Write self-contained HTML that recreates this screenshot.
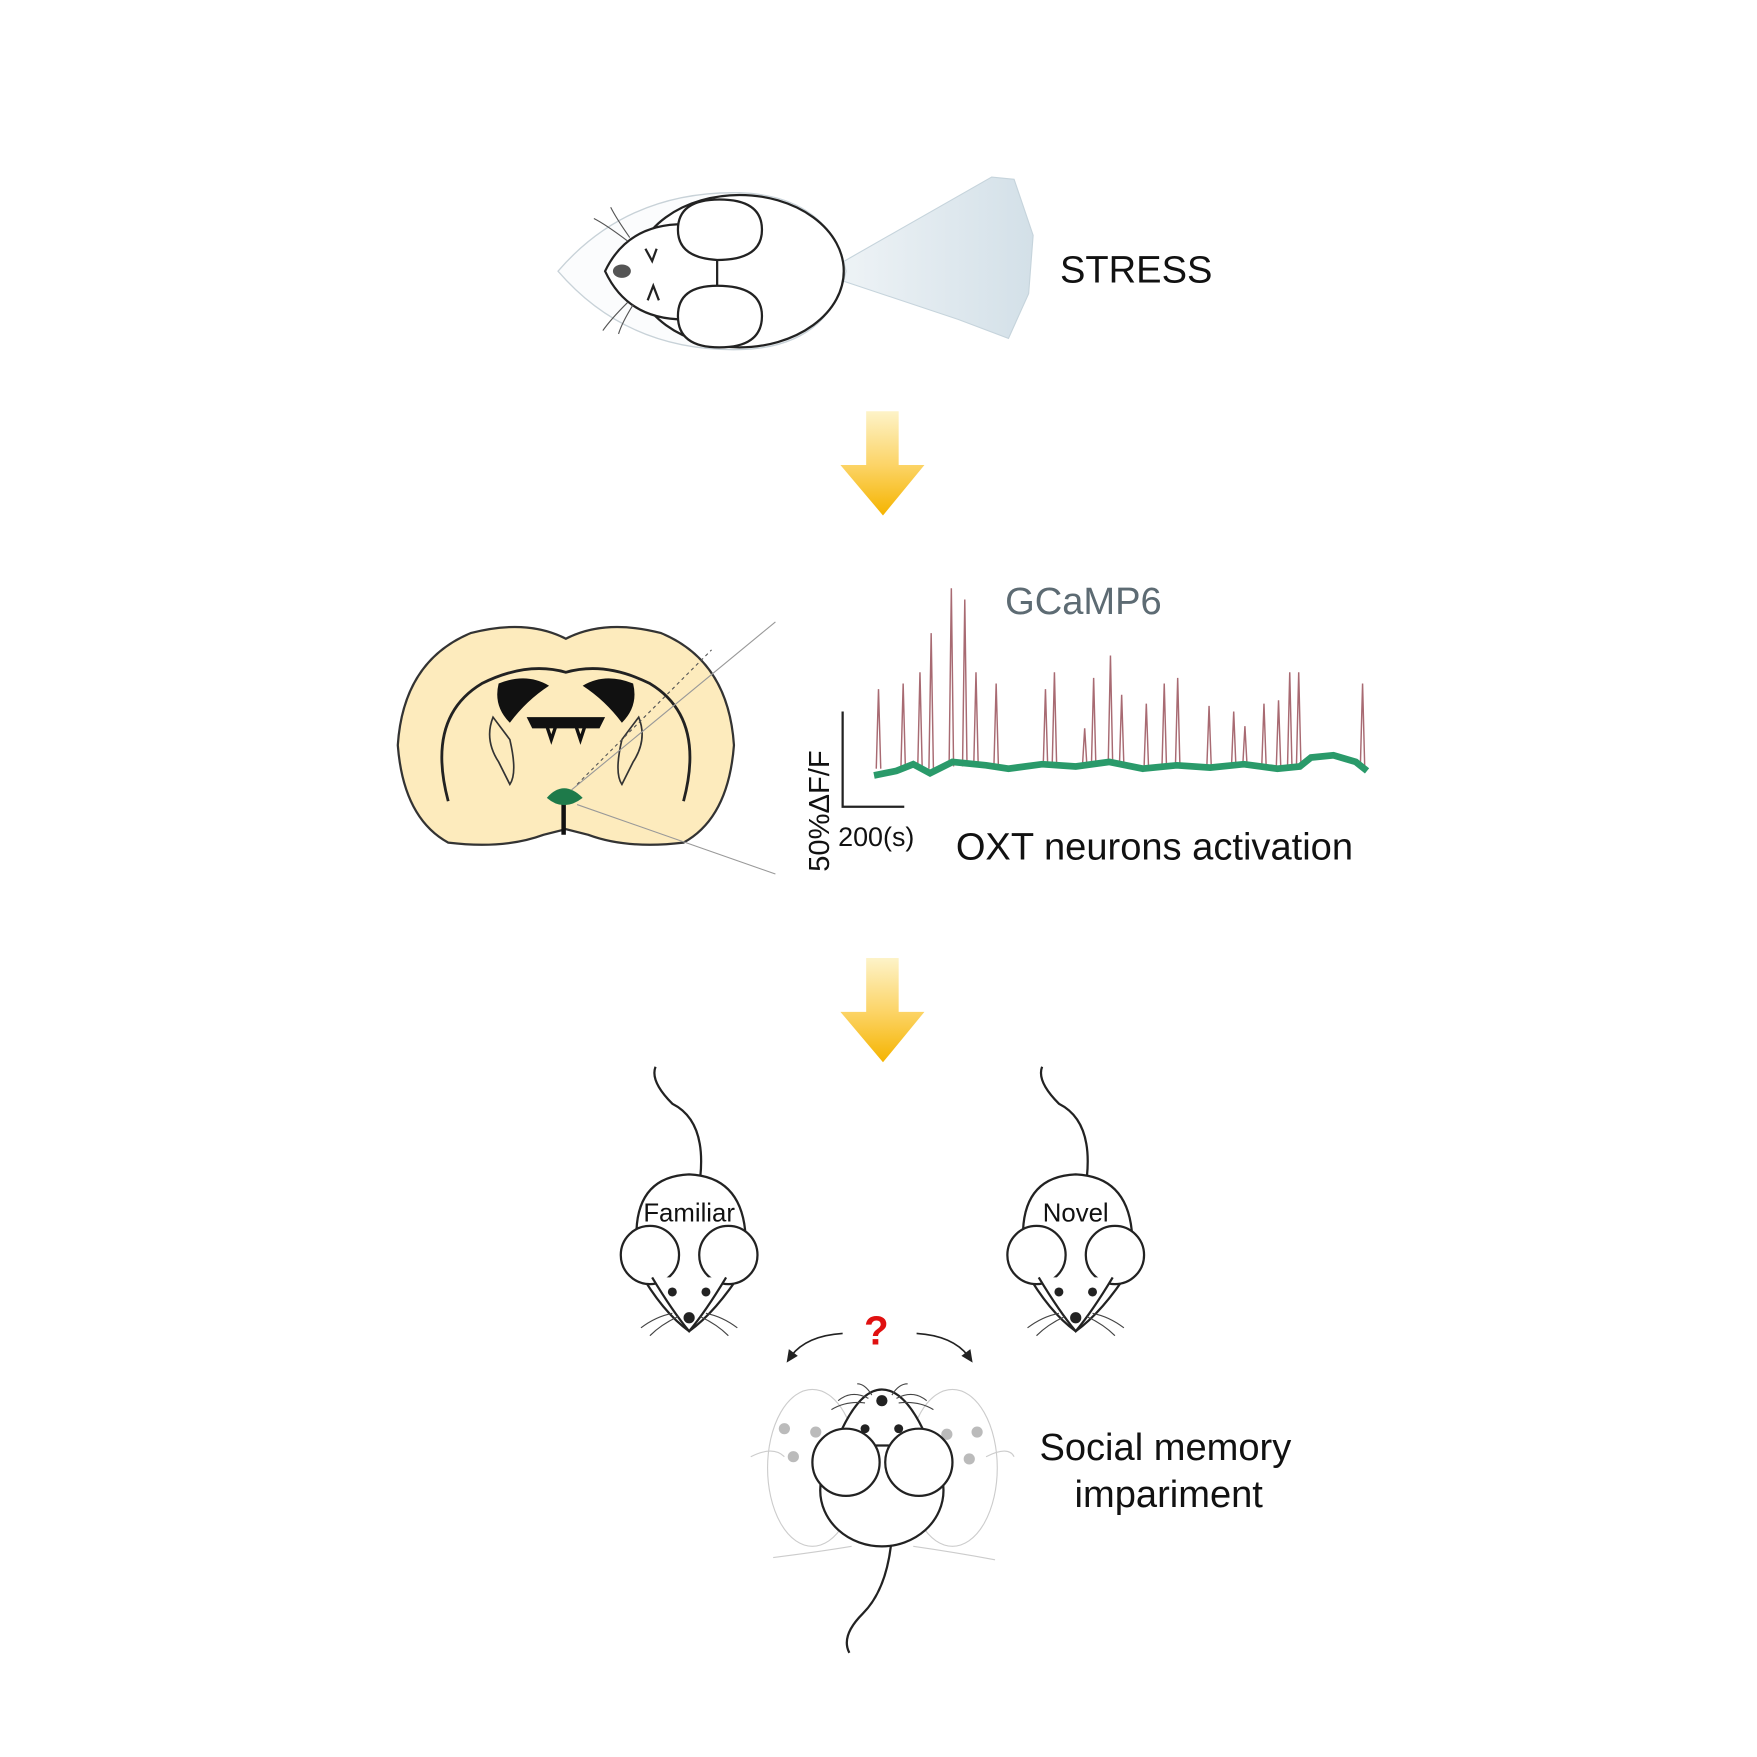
<!DOCTYPE html>
<html><head><meta charset="utf-8"><style>
html,body{margin:0;padding:0;background:#fff;}
svg{display:block;}
text{font-family:"Liberation Sans",sans-serif;}
</style></head><body>
<svg width="1757" height="1757" viewBox="0 0 1568 1568" xmlns="http://www.w3.org/2000/svg">
<defs>
<linearGradient id="yg" x1="0" y1="0" x2="0" y2="1">
<stop offset="0" stop-color="#fdf3c8"/><stop offset="0.5" stop-color="#fcd56a"/><stop offset="1" stop-color="#f5b400"/>
</linearGradient>
<linearGradient id="bag" x1="0" y1="0" x2="1" y2="0">
<stop offset="0" stop-color="#eef3f6"/><stop offset="1" stop-color="#d3e0e8"/>
</linearGradient>
</defs>

<path d="M750,235 L885,158 L905,160 L922,210 L918,262 L900,302 L855,285 L750,250 Z" fill="url(#bag)" stroke="#c6d4dc" stroke-width="1"/>
<path d="M498,242 Q560,170 660,172 Q740,175 755,242 Q740,310 660,312 Q560,314 498,242 Z" fill="#fbfcfd" stroke="#c8d2d8" stroke-width="1.2"/>
<ellipse cx="660" cy="242" rx="93" ry="68" fill="#fff" stroke="#222" stroke-width="2"/>
<path d="M540,242 Q560,200 610,200 L640,215 L640,270 L610,285 Q560,285 540,242 Z" fill="#fff" stroke="#222" stroke-width="2"/>
<path d="M640,232 Q605,230 605,205 Q605,178 642,178 Q680,178 680,205 Q680,232 640,232 Z" fill="#fff" stroke="#222" stroke-width="2"/>
<path d="M640,255 Q605,255 605,282 Q605,310 642,310 Q680,310 680,282 Q680,255 640,255 Z" fill="#fff" stroke="#222" stroke-width="2"/>
<ellipse cx="555" cy="242" rx="8" ry="6" fill="#555"/>
<path d="M576,222 L582,233 L586,222 M578,268 L583,255 L588,268" stroke="#222" stroke-width="2" fill="none"/>
<path d="M560,215 Q540,200 530,195 M562,212 Q550,195 545,185 M560,270 Q545,285 538,295 M565,272 Q555,288 552,298" stroke="#555" stroke-width="1" fill="none"/>
<text x="946" y="252" font-size="34" fill="#111">STRESS</text>

<path d="M773,367 L802,367 L802,415 L825,415 L788,460 L750,415 L773,415 Z" fill="url(#yg)"/>

<path d="M505,570 Q470,552 420,565 Q360,590 355,665 Q360,730 400,752 Q450,758 485,745 L505,740 L525,745 Q560,758 610,752 Q650,730 655,665 Q650,590 590,565 Q540,552 505,570 Z" fill="#fdebbd" stroke="#333" stroke-width="2"/>
<path d="M400,715 Q380,640 430,610 Q470,590 505,600 Q540,590 580,610 Q630,640 610,715" fill="none" stroke="#222" stroke-width="2.5"/>
<path d="M445,610 Q470,600 490,612 Q470,625 455,645 Q440,630 445,610 Z" fill="#111"/>
<path d="M565,610 Q540,600 520,612 Q540,625 555,645 Q570,630 565,610 Z" fill="#111"/>
<path d="M470,640 L540,640 L535,650 L475,650 Z" fill="#111"/>
<path d="M440,640 Q432,660 445,680 L455,700 Q462,690 455,660 Z" fill="#fdebbd" stroke="#333" stroke-width="1.5"/>
<path d="M570,640 Q578,660 565,680 L555,700 Q548,690 555,660 Z" fill="#fdebbd" stroke="#333" stroke-width="1.5"/>
<path d="M488,648 L492,660 L496,648 M514,648 L518,660 L522,648" stroke="#111" stroke-width="3" fill="none"/>
<path d="M503,705 L503,745" stroke="#111" stroke-width="4"/>
<path d="M488,712 Q503,695 520,712 Q503,725 488,712 Z" fill="#1e7a4a"/>
<path d="M510,705 L692,555 M515,718 L692,780" stroke="#999" stroke-width="1"/>
<path d="M515,700 L635,580" stroke="#555" stroke-width="1" stroke-dasharray="3,3"/>

<text x="897" y="548" font-size="34" fill="#5d6b73">GCaMP6</text>
<path d="M752,635 L752,720 L807,720" stroke="#222" stroke-width="2" fill="none"/>
<path fill="none" stroke="#a86a72" stroke-width="1.3" d="M782,686 L784,615 L786,686 M804,686 L806,610 L808,686 M819,686 L821,600 L823,686 M829,686 L831,565 L833,686 M847,684 L849,525 L851,684 M859,684 L861,535 L863,684 M869,684 L871,600 L873,684 M887,684 L889,610 L891,684 M931,684 L933,615 L935,684 M939,684 L941,600 L943,684 M966,684 L968,650 L970,684 M974,684 L976,605 L978,684 M989,682 L991,585 L993,682 M999,684 L1001,620 L1003,684 M1021,685 L1023,628 L1025,685 M1037,684 L1039,610 L1041,684 M1049,684 L1051,605 L1053,684 M1077,685 L1079,630 L1081,685 M1099,685 L1101,635 L1103,685 M1109,685 L1111,648 L1113,685 M1126,685 L1128,628 L1130,685 M1139,685 L1141,625 L1143,685 M1149,685 L1151,600 L1153,685 M1157,683 L1159,600 L1161,683 M1214,685 L1216,610 L1218,688"/>
<path d="M780,692 L800,688 L815,682 L830,690 L850,680 L880,683 L900,686 L930,682 L960,684 L990,680 L1020,686 L1050,683 L1080,685 L1110,682 L1140,686 L1160,684 L1170,676 L1190,674 L1210,680 L1220,688" stroke="#2a9a6a" stroke-width="6" fill="none"/>
<text transform="translate(740,778) rotate(-90)" font-size="26" fill="#111">50%ΔF/F</text>
<text x="748" y="755" font-size="24" fill="#111">200(s)</text>
<text x="853" y="767" font-size="34" fill="#111">OXT neurons activation</text>

<path d="M773,855 L802,855 L802,903 L825,903 L788,948 L750,903 L773,903 Z" fill="url(#yg)"/>

<g stroke="#222" stroke-width="2" fill="#fff">
<path d="M625,1050 Q630,1000 600,985 Q580,965 585,952" fill="none"/>
<path d="M568,1098 Q570,1050 615,1048 Q660,1050 665,1098 L665,1130 Q640,1170 615,1188 Q590,1170 568,1130 Z"/>
<circle cx="580" cy="1120" r="26"/><circle cx="650" cy="1120" r="26"/>
<path d="M582,1140 Q600,1170 615,1188 Q630,1170 648,1140"/>
</g>
<circle cx="600" cy="1153" r="4" fill="#222"/><circle cx="630" cy="1153" r="4" fill="#222"/>
<circle cx="615" cy="1176" r="5" fill="#222"/>
<path d="M600,1172 Q585,1175 572,1185 M605,1175 Q590,1182 580,1192 M630,1172 Q645,1175 658,1185 M625,1175 Q640,1182 650,1192" stroke="#444" stroke-width="1" fill="none"/>
<text x="615" y="1090" font-size="23" text-anchor="middle" fill="#111">Familiar</text>

<g stroke="#222" stroke-width="2" fill="#fff">
<path d="M970,1050 Q975,1000 945,985 Q925,965 930,952" fill="none"/>
<path d="M913,1098 Q915,1050 960,1048 Q1005,1050 1010,1098 L1010,1130 Q985,1170 960,1188 Q935,1170 913,1130 Z"/>
<circle cx="925" cy="1120" r="26"/><circle cx="995" cy="1120" r="26"/>
<path d="M927,1140 Q945,1170 960,1188 Q975,1170 993,1140"/>
</g>
<circle cx="945" cy="1153" r="4" fill="#222"/><circle cx="975" cy="1153" r="4" fill="#222"/>
<circle cx="960" cy="1176" r="5" fill="#222"/>
<path d="M945,1172 Q930,1175 917,1185 M950,1175 Q935,1182 925,1192 M975,1172 Q990,1175 1003,1185 M970,1175 Q985,1182 995,1192" stroke="#444" stroke-width="1" fill="none"/>
<text x="960" y="1090" font-size="23" text-anchor="middle" fill="#111">Novel</text>

<text x="782" y="1200" font-size="36" text-anchor="middle" fill="#e01010" font-weight="bold">?</text>
<path d="M752,1190 Q720,1192 706,1210" stroke="#222" stroke-width="1.5" fill="none"/>
<path d="M702,1216 L704,1204 L712,1210 Z" fill="#222"/>
<path d="M818,1190 Q850,1192 864,1210" stroke="#222" stroke-width="1.5" fill="none"/>
<path d="M868,1216 L866,1204 L858,1210 Z" fill="#222"/>

<g stroke="#ccc" stroke-width="1" fill="none">
<ellipse cx="725" cy="1310" rx="40" ry="70"/><ellipse cx="850" cy="1310" rx="40" ry="70"/>
<path d="M670,1300 Q690,1290 700,1300 M880,1300 Q900,1290 905,1300 M690,1390 Q730,1385 760,1380 M815,1380 Q850,1385 888,1392"/>
</g>
<circle cx="700" cy="1275" r="5" fill="#bbb"/><circle cx="728" cy="1278" r="5" fill="#bbb"/><circle cx="708" cy="1300" r="5" fill="#bbb"/>
<circle cx="845" cy="1280" r="5" fill="#bbb"/><circle cx="872" cy="1278" r="5" fill="#bbb"/><circle cx="865" cy="1302" r="5" fill="#bbb"/>
<g stroke="#222" stroke-width="2" fill="#fff">
<path d="M795,1380 Q790,1420 770,1440 Q750,1460 758,1475" fill="none"/>
<ellipse cx="787" cy="1330" rx="55" ry="50"/>
<path d="M745,1290 Q765,1240 787,1240 Q810,1240 830,1290 Z"/>
<circle cx="755" cy="1305" r="30"/><circle cx="820" cy="1305" r="30"/>
</g>
<circle cx="787" cy="1250" r="5" fill="#222"/>
<circle cx="772" cy="1275" r="4" fill="#222"/><circle cx="802" cy="1275" r="4" fill="#222"/>
<path d="M775,1248 Q760,1240 748,1250 M772,1252 Q755,1250 742,1258 M800,1248 Q815,1240 827,1250 M802,1252 Q820,1250 833,1258 M778,1245 Q772,1235 765,1235 M796,1245 Q802,1235 810,1235" stroke="#444" stroke-width="1" fill="none"/>
<text x="1040" y="1303" font-size="34" text-anchor="middle" fill="#111">Social memory</text>
<text x="1043" y="1345" font-size="34" text-anchor="middle" fill="#111">impariment</text>
</svg>
</body></html>
